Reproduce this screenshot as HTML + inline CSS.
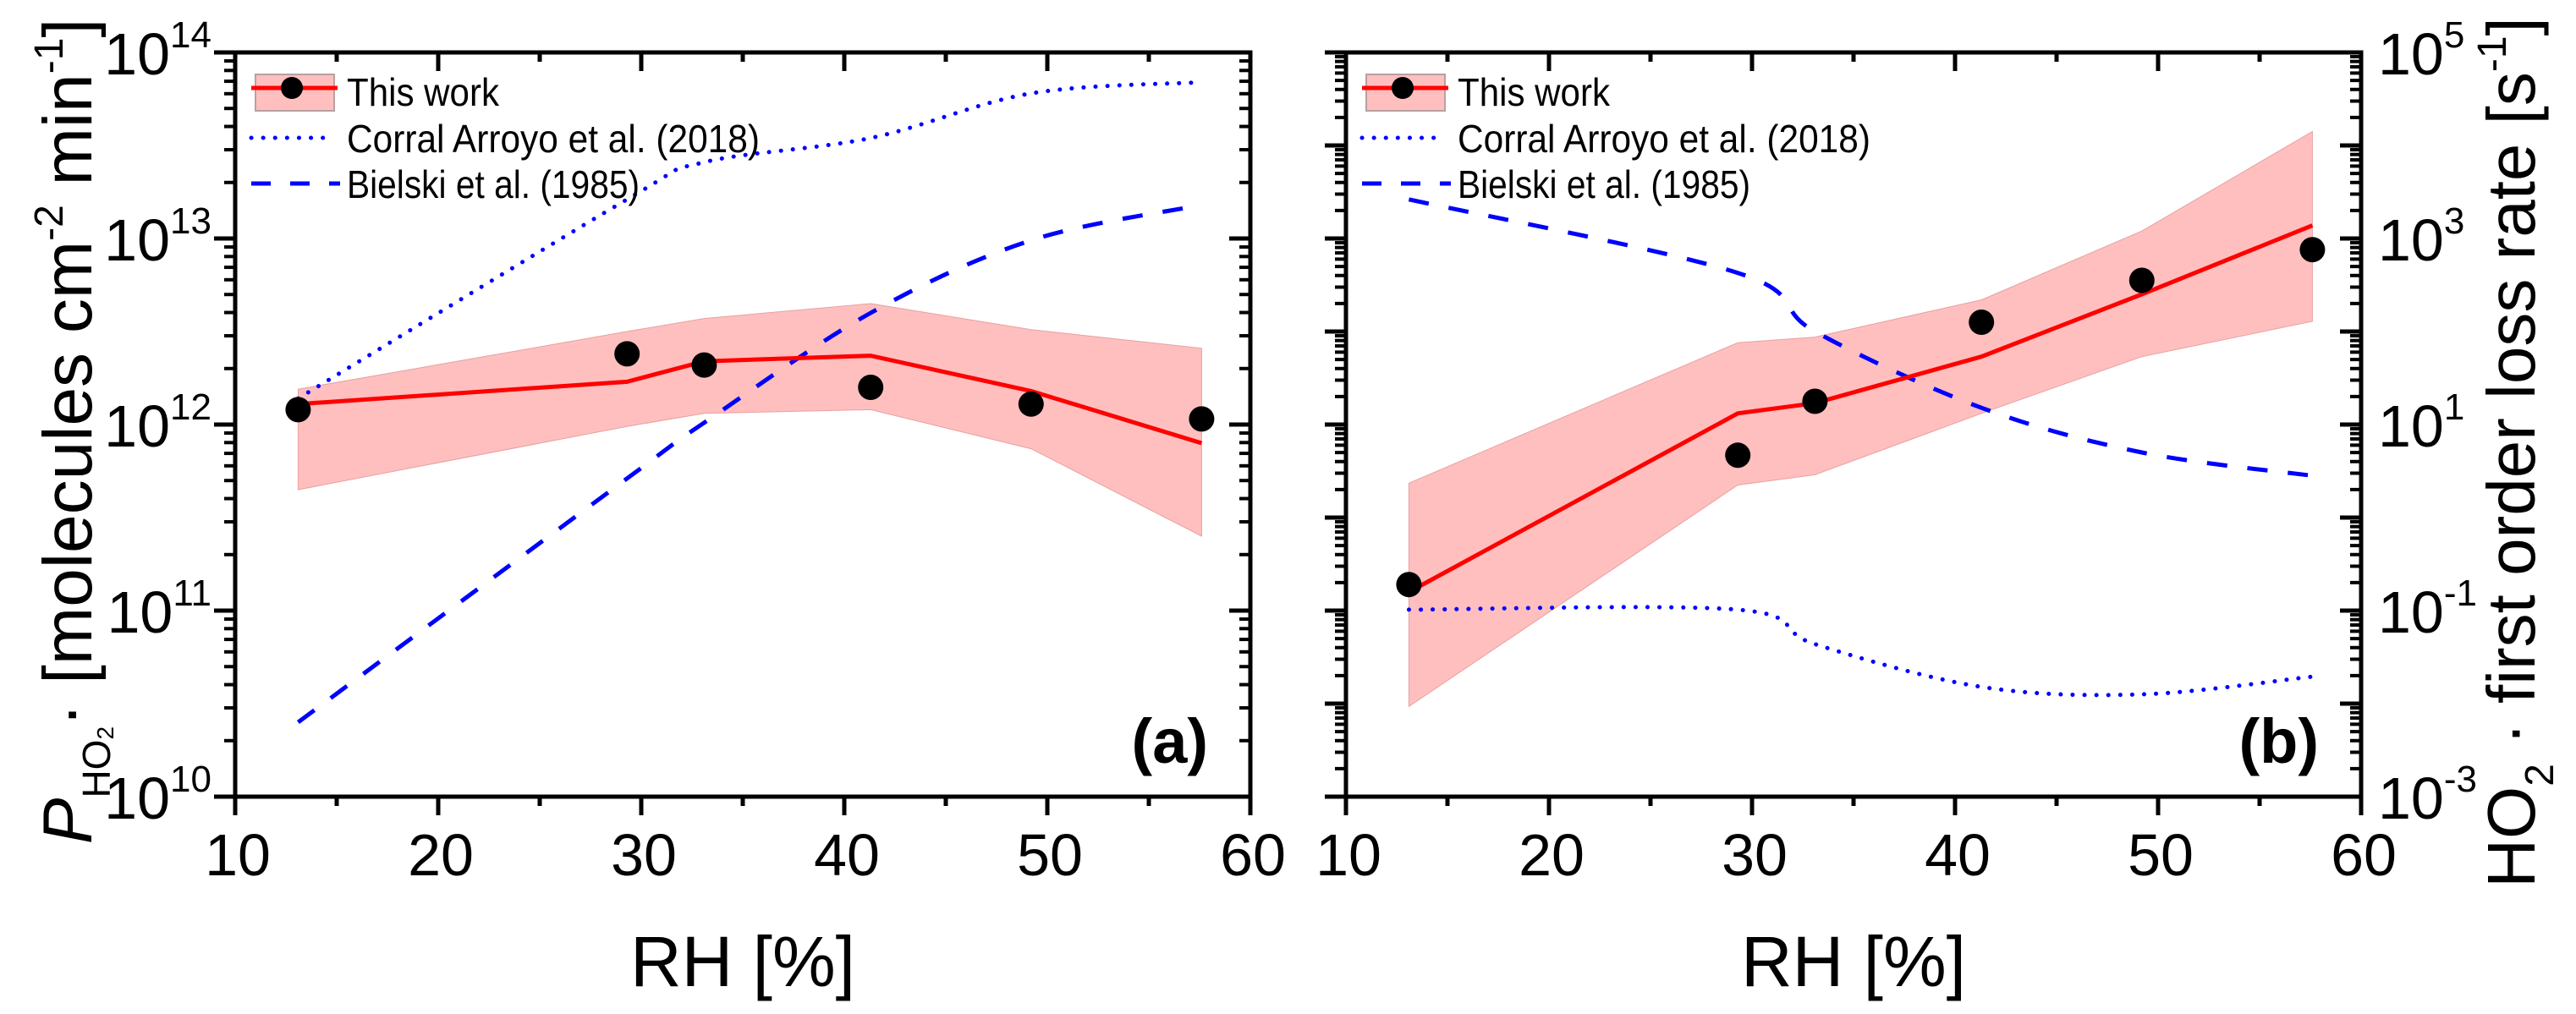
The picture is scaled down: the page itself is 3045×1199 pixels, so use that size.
<!DOCTYPE html>
<html><head><meta charset="utf-8"><style>
html,body{margin:0;padding:0;background:#fff;}
svg{display:block;font-family:"Liberation Sans",Arial,sans-serif;}
</style></head><body>
<svg id="fig" width="3045" height="1199" viewBox="0 0 3045 1199" xmlns="http://www.w3.org/2000/svg">
<g id="pa"></g>
<g id="pb"></g>
<text transform="translate(108,510) rotate(-90)" text-anchor="middle" font-size="82"><tspan font-style="italic">P</tspan><tspan font-size="46" dy="22">HO</tspan><tspan font-size="28" dy="4">2</tspan><tspan dy="-26">· [molecules cm</tspan><tspan font-size="48" dy="-34">-2</tspan><tspan dy="34"> min</tspan><tspan font-size="48" dy="-34">-1</tspan><tspan dy="34">]</tspan></text>
<text transform="translate(2996,535) rotate(-90)" text-anchor="middle" font-size="80">HO<tspan font-size="48" dy="22">2</tspan><tspan dy="-22"> · first order loss rate [s</tspan><tspan font-size="48" dy="-34">-1</tspan><tspan dy="34">]</tspan></text>
</svg>
<script>
// Shared x data (RH %)
const rh = [13.1, 29.3, 33.1, 41.3, 49.2, 57.6];
// Panel a (log10 of production rate)
const aPoints = [12.08, 12.38, 12.32, 12.20, 12.11, 12.03];
const aLine = [12.11, 12.23, 12.34, 12.37, 12.18, 11.90];
const aUpper = [12.19, 12.50, 12.57, 12.65, 12.51, 12.41];
const aLower = [11.65, 11.99, 12.06, 12.08, 11.87, 11.40];
const aCorral = [12.14, 13.21, 13.41, 13.54, 13.78, 13.84];
const aBielski = [10.40, 11.71, 12.01, 12.60, 12.99, 13.18];
// Panel b (log10 of loss rate)
const bPoints = [-0.72, 0.67, 1.25, 2.10, 2.55, 2.88];
const bLine = [-0.80, 1.12, 1.23, 1.73, 2.40, 3.14];
const bUpper = [0.37, 1.88, 1.94, 2.34, 3.08, 4.15];
const bLower = [-2.03, 0.35, 0.46, 1.12, 1.73, 2.11];
const bCorral = [-0.99, -0.99, -1.36, -1.82, -1.90, -1.71];
const bBielski = [3.42, 2.63, 2.00, 1.18, 0.70, 0.45];
const xTicks = [10, 20, 30, 40, 50, 60];
const aYTicks = [10, 11, 12, 13, 14];
const bYTicks = [-3, -1, 1, 3, 5];

const NS = "http://www.w3.org/2000/svg";
function mk(parent, tag, attrs, text) {
  const e = document.createElementNS(NS, tag);
  for (const k in attrs) e.setAttribute(k, attrs[k]);
  if (text !== undefined) e.textContent = text;
  parent.appendChild(e);
  return e;
}
function smooth(pts) {
  let d = "M" + pts[0][0] + "," + pts[0][1];
  for (let i = 0; i < pts.length - 1; i++) {
    const p0 = pts[Math.max(0, i - 1)], p1 = pts[i], p2 = pts[i + 1], p3 = pts[Math.min(pts.length - 1, i + 2)];
    const c1 = [p1[0] + (p2[0] - p0[0]) / 6, p1[1] + (p2[1] - p0[1]) / 6];
    const c2 = [p2[0] - (p3[0] - p1[0]) / 6, p2[1] - (p3[1] - p1[1]) / 6];
    d += " C" + c1 + " " + c2 + " " + p2;
  }
  return d;
}

function panel(g, X0, yMin, yMax, pts, line, up, lo, corral, bielski, label, rightLabels) {
  const L = X0, R = X0 + 1200, T = 62, B = 942;
  const sx = v => L + (v - 10) * 24;
  const sy = v => B - (v - yMin) * (B - T) / (yMax - yMin);
  let d = "M" + rh.map((r, i) => sx(r) + "," + sy(up[i])).join(" L");
  d += " L" + rh.slice().reverse().map((r, k) => sx(r) + "," + sy(lo[rh.length - 1 - k])).join(" L") + " Z";
  const band = mk(g, "path", {d: d, fill: "#ffbfbf", stroke: "#e8a0a0", "stroke-width": 1});
  
  
  const c = mk(g, "path", {d: smooth(rh.map((r, i) => [sx(r), sy(corral[i])])), fill: "none", stroke: "#0000ff", "stroke-width": 5, "stroke-dasharray": "0.1 14", "stroke-linecap": "round"});
  
  
  const bl = mk(g, "path", {d: smooth(rh.map((r, i) => [sx(r), sy(bielski[i])])), fill: "none", stroke: "#0000ff", "stroke-width": 5, "stroke-dasharray": "24 24"});
  
  
  const ln = mk(g, "polyline", {points: rh.map((r, i) => sx(r) + "," + sy(line[i])).join(" "), fill: "none", stroke: "#ff0000", "stroke-width": 5});
  
  
  rh.forEach((r, i) => {
    const p = mk(g, "circle", {cx: sx(r), cy: sy(pts[i]), r: 15, fill: "#000"});
    
    
  });
  const fr = mk(g, "rect", {x: L, y: T, width: 1200, height: B - T, fill: "none", stroke: "#000", "stroke-width": 5});
  
  
  for (let v = 10; v <= 60; v += 5) {
    const major = v % 10 === 0, len = major ? 22 : 11;
    mk(g, "line", {x1: sx(v), x2: sx(v), y1: B, y2: B + len, stroke: "#000", "stroke-width": 5});
    mk(g, "line", {x1: sx(v), x2: sx(v), y1: T, y2: T + len, stroke: "#000", "stroke-width": 5});
  }
  xTicks.forEach(v => {
    const t = mk(g, "text", {x: sx(v) + 3, y: 1035, "font-size": 70, "text-anchor": "middle"}, String(v));
    
    
  });
  for (let e = yMin; e <= yMax; e++) {
    mk(g, "line", {x1: L - 25, x2: L, y1: sy(e), y2: sy(e), stroke: "#000", "stroke-width": 5});
    mk(g, "line", {x1: R - 25, x2: R, y1: sy(e), y2: sy(e), stroke: "#000", "stroke-width": 5});
    if (e < yMax) for (let k = 2; k <= 9; k++) {
      const y = sy(e + Math.log10(k));
      mk(g, "line", {x1: L - 13, x2: L, y1: y, y2: y, stroke: "#000", "stroke-width": 4});
      mk(g, "line", {x1: R - 13, x2: R, y1: y, y2: y, stroke: "#000", "stroke-width": 4});
    }
  }
  const labs = rightLabels ? bYTicks : aYTicks;
  labs.forEach(e => {
    const t = rightLabels
      ? mk(g, "text", {x: R + 20, y: sy(e) + 26, "font-size": 70, "text-anchor": "start"})
      : mk(g, "text", {x: L - 28, y: sy(e) + 26, "font-size": 70, "text-anchor": "end"});
    mk(t, "tspan", {}, "10");
    mk(t, "tspan", {"font-size": 44, dy: -32}, String(e));
    
    
  });
  const xt = mk(g, "text", {x: L + 600, y: 1166, "font-size": 84, "text-anchor": "middle"}, "RH [%]");
  
  
  const pl = mk(g, "text", {x: R - 50, y: B - 40, "font-size": 74, "font-weight": "bold", "text-anchor": "end"}, label);
  
  
  const lg = mk(g, "g", {});
  
  
  const o = L - 278;
  mk(lg, "rect", {x: 302 + o, y: 88, width: 93, height: 43, fill: "#ffbfbf", stroke: "#b8a0a0", "stroke-width": 2});
  mk(lg, "line", {x1: 297 + o, x2: 399 + o, y1: 104, y2: 104, stroke: "#ff0000", "stroke-width": 5});
  mk(lg, "circle", {cx: 345 + o, cy: 104, r: 13, fill: "#000"});
  mk(lg, "line", {x1: 297 + o, x2: 388 + o, y1: 163, y2: 163, stroke: "#0000ff", "stroke-width": 5, "stroke-dasharray": "0.1 14", "stroke-linecap": "round"});
  mk(lg, "line", {x1: 297 + o, x2: 402 + o, y1: 217, y2: 217, stroke: "#0000ff", "stroke-width": 5, "stroke-dasharray": "23 23"});
  const e1 = mk(lg, "text", {x: 410 + o, y: 125, "font-size": 46, textLength: 180, lengthAdjust: "spacingAndGlyphs"}, "This work");
  
  
  const e2 = mk(lg, "text", {x: 410 + o, y: 180, "font-size": 46, textLength: 488, lengthAdjust: "spacingAndGlyphs"}, "Corral Arroyo et al. (2018)");
  
  
  const e3 = mk(lg, "text", {x: 410 + o, y: 234, "font-size": 46, textLength: 346, lengthAdjust: "spacingAndGlyphs"}, "Bielski et al. (1985)");
  
  
}
panel(document.getElementById("pa"), 278, 10, 14, aPoints, aLine, aUpper, aLower, aCorral, aBielski, "(a)", false);
panel(document.getElementById("pb"), 1591, -3, 5, bPoints, bLine, bUpper, bLower, bCorral, bBielski, "(b)", true);
</script>
</body></html>
